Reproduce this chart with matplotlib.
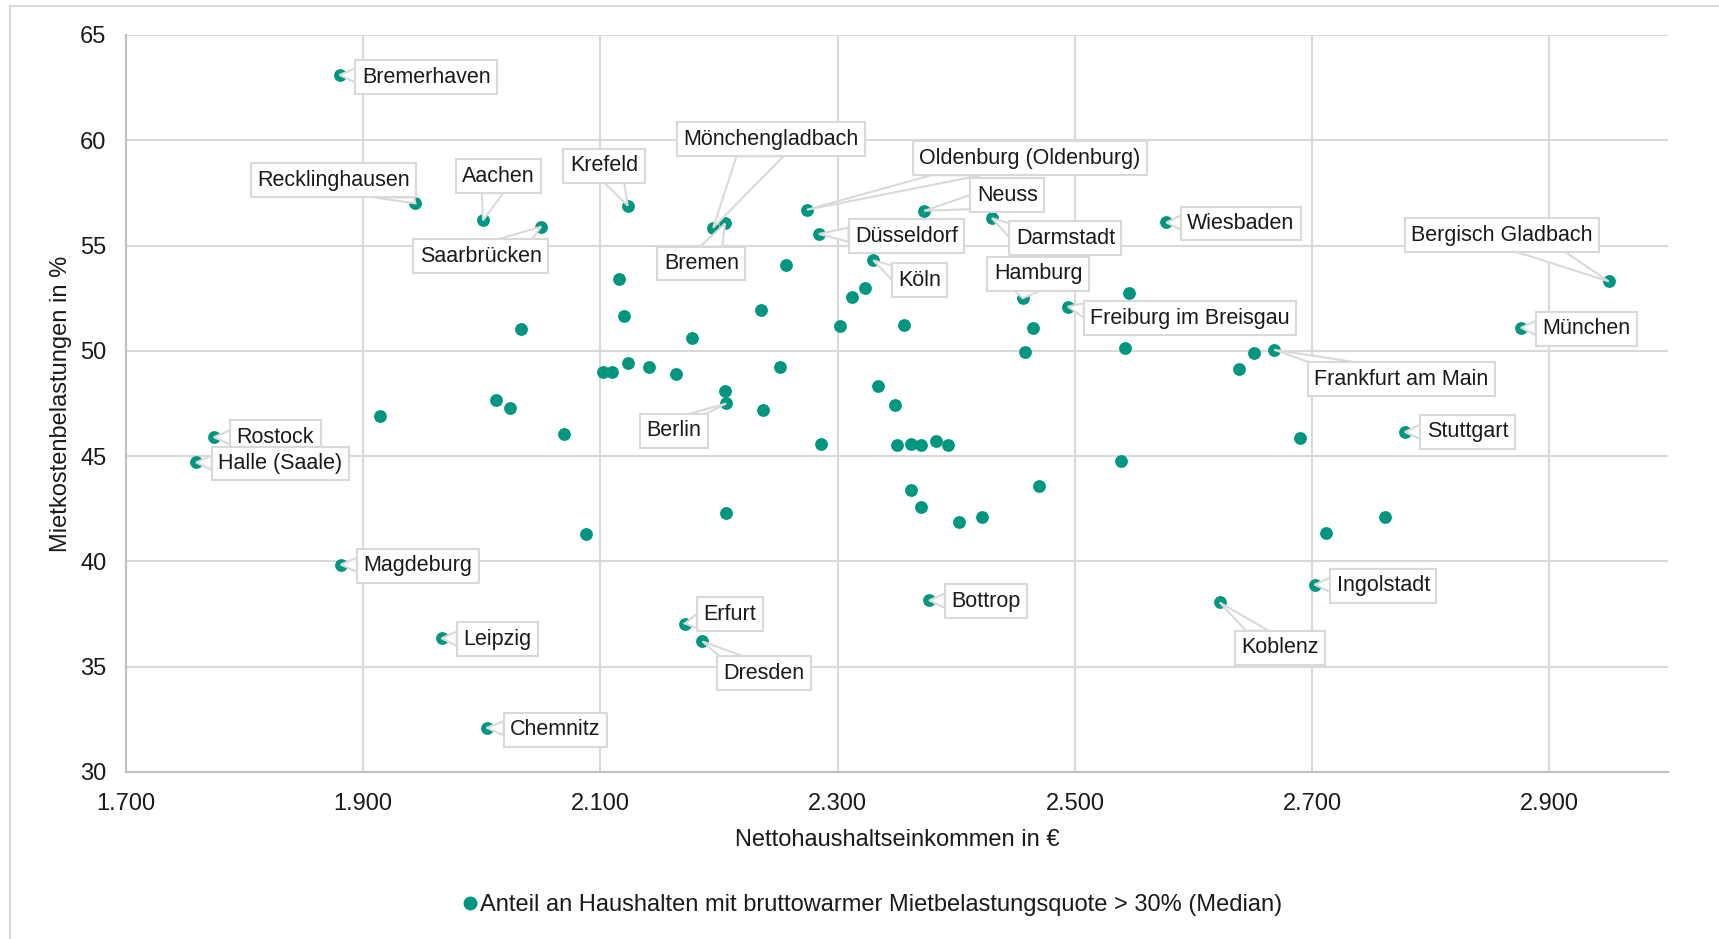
import matplotlib
matplotlib.use("Agg")
import matplotlib.pyplot as plt
from matplotlib.lines import Line2D
from matplotlib.patches import Polygon
from matplotlib.ticker import FuncFormatter

plt.rcParams['font.family'] = ['Liberation Sans', 'DejaVu Sans']

# Nettohaushaltseinkommen (EUR) und Anteil Haushalte mit Mietbelastung > 30 % (%)
cities = [
    "Bremerhaven", "Recklinghausen", "Aachen", "Saarbrücken", "Krefeld",
    "Mönchengladbach", "Bremen", "Oldenburg (Oldenburg)", "Düsseldorf", "Neuss",
    "Darmstadt", "Köln", "Hamburg", "Freiburg im Breisgau", "Wiesbaden",
    "Bergisch Gladbach", "München", "Frankfurt am Main", "Stuttgart", "Berlin",
    "Rostock", "Halle (Saale)", "Magdeburg", "Leipzig", "Chemnitz",
    "Erfurt", "Dresden", "Bottrop", "Ingolstadt", "Koblenz",
]
city_income = [
    1880, 1944, 2001, 2050, 2123,
    2195, 2205, 2274, 2284, 2373,
    2430, 2330, 2456, 2494, 2577,
    2950, 2876, 2668, 2778, 2206,
    1774, 1759, 1881, 1966, 2004,
    2171, 2186, 2377, 2702, 2622,
]
city_share = [
    63.1, 57.0, 56.2, 55.9, 56.9,
    55.85, 56.05, 56.7, 55.55, 56.65,
    56.3, 54.3, 52.5, 52.1, 56.1,
    53.3, 51.1, 50.05, 46.15, 47.5,
    45.9, 44.7, 39.85, 36.35, 32.1,
    37.05, 36.2, 38.15, 38.9, 38.05,
]

# unbeschriftete Städte
other_income = [
    2116, 2256, 2033, 2120, 2177, 2235, 2323, 2312, 2302, 2356,
    2465, 2458, 2546, 2542, 2638, 2651, 1914, 2012, 2024, 2069,
    2102, 2110, 2123, 2141, 2164, 2251, 2205, 2237, 2334, 2348,
    2286, 2350, 2362, 2370, 2383, 2393, 2539, 2470, 2362, 2370,
    2402, 2422, 2206, 2088, 2690, 2761, 2712,
]
other_share = [
    53.4, 54.1, 51.05, 51.65, 50.6, 51.95, 53.0, 52.55, 51.2, 51.25,
    51.1, 49.95, 52.75, 50.15, 49.15, 49.9, 46.9, 47.65, 47.3, 46.05,
    49.0, 49.0, 49.4, 49.25, 48.9, 49.25, 48.1, 47.2, 48.35, 47.45,
    45.6, 45.55, 45.6, 45.55, 45.7, 45.55, 44.75, 43.6, 43.4, 42.6,
    41.85, 42.1, 42.3, 41.3, 45.85, 42.1, 41.35,
]

# Position der Beschriftungen (Mitte, in Datenkoordinaten)
label_pos = {
    "Bremerhaven": (1953, 63.0), "Recklinghausen": (1875, 58.1),
    "Aachen": (2014, 58.3), "Saarbrücken": (1999, 54.5),
    "Krefeld": (2103, 58.8), "Mönchengladbach": (2244, 60.05),
    "Bremen": (2185, 54.15), "Oldenburg (Oldenburg)": (2462, 59.15),
    "Düsseldorf": (2358, 55.45), "Neuss": (2443, 57.4),
    "Darmstadt": (2492, 55.35), "Köln": (2369, 53.35),
    "Hamburg": (2469, 53.65), "Freiburg im Breisgau": (2597, 51.55),
    "Wiesbaden": (2640, 56.05), "Bergisch Gladbach": (2860, 55.5),
    "München": (2931, 51.05), "Frankfurt am Main": (2775, 48.65),
    "Stuttgart": (2831, 46.15), "Berlin": (2162, 46.2),
    "Rostock": (1826, 45.9), "Halle (Saale)": (1830, 44.65),
    "Magdeburg": (1946, 39.8), "Leipzig": (2013, 36.3),
    "Chemnitz": (2062, 32.0), "Erfurt": (2209, 37.5),
    "Dresden": (2238, 34.7), "Bottrop": (2425, 38.1),
    "Ingolstadt": (2760, 38.85), "Koblenz": (2673, 35.9),
}

teal = "#00967F"
grid_col = "#d9d9d9"
txt_col = "#1a1a1a"

fig = plt.figure(figsize=(17.19, 9.39), dpi=100)
ax = fig.add_axes([126 / 1719, 1 - 772 / 939, (1668 - 126) / 1719, (772 - 35) / 939])

ax.scatter(other_income, other_share, s=85, color=teal, zorder=3, linewidths=0)
ax.scatter(city_income, city_share, s=85, color=teal, zorder=3, linewidths=0)

ax.set_xlim(1700, 3000)
ax.set_ylim(30, 65)
ax.set_xticks(range(1700, 3000, 200))
ax.set_yticks(range(30, 66, 5))
ax.xaxis.set_major_formatter(FuncFormatter(lambda v, p: f"{int(v):,}".replace(",", ".")))
ax.grid(True, color=grid_col, lw=1.5)
ax.set_axisbelow(True)
for s in ['top', 'right']:
    ax.spines[s].set_visible(False)
for s in ['left', 'bottom']:
    ax.spines[s].set_color('#bfbfbf')
    ax.spines[s].set_linewidth(1.5)
ax.tick_params(length=0, labelsize=17, colors=txt_col)
ax.tick_params(axis='x', pad=15)
ax.tick_params(axis='y', pad=14)

ax.set_xlabel("Nettohaushaltseinkommen in €", fontsize=17, color=txt_col, labelpad=10)
ax.set_ylabel("Mietkostenbelastungen in %", fontsize=17, color=txt_col, labelpad=6)

labels = []
for name, x, y in zip(cities, city_income, city_share):
    tx, ty = label_pos[name]
    t = ax.text(tx, ty, name, ha='center', va='center', fontsize=15.5, color=txt_col, zorder=5,
                bbox=dict(boxstyle='square,pad=0.3', fc='white', ec=grid_col, lw=1.5))
    labels.append((t, x, y))

# Callout-Spitzen: Keil vom Kastenrand zum Punkt
fig.canvas.draw()
renderer = fig.canvas.get_renderer()
inv = ax.transData.inverted()
for t, x, y in labels:
    bb = t.get_bbox_patch().get_window_extent(renderer)
    cx, cy = (bb.x0 + bb.x1) / 2, (bb.y0 + bb.y1) / 2
    px, py = ax.transData.transform((x, y))
    dx, dy = px - cx, py - cy
    hw, hh = bb.width / 2, bb.height / 2
    tx_ = hw / abs(dx) if dx != 0 else 1e9
    ty_ = hh / abs(dy) if dy != 0 else 1e9
    if tx_ < ty_:
        ex, ey = cx + dx * tx_, cy + dy * tx_
        b = 0.42 * bb.height
        ey = min(max(ey, bb.y0 + b / 2 + 2), bb.y1 - b / 2 - 2)
        base = [(ex, ey - b / 2), (ex, ey + b / 2)]
    else:
        ex, ey = cx + dx * ty_, cy + dy * ty_
        b = min(0.25 * bb.width, 50)
        ex = min(max(ex, bb.x0 + b / 2 + 2), bb.x1 - b / 2 - 2)
        base = [(ex - b / 2, ey), (ex + b / 2, ey)]
    pts = inv.transform([base[0], (px, py), base[1]])
    ax.add_patch(Polygon(pts, closed=True, fc='white', ec=grid_col, lw=1.5, zorder=4))

handle = Line2D([], [], marker='o', ls='', color=teal, markersize=9)
fig.legend([handle], ["Anteil an Haushalten mit bruttowarmer Mietbelastungsquote > 30% (Median)"],
           loc='center', bbox_to_anchor=(872 / 1719, 1 - 905 / 939), frameon=False,
           fontsize=17, handletextpad=0.1, handlelength=0.7, labelcolor=txt_col)

# äußerer Rahmen (nur oben und links sichtbar)
fig.add_artist(Line2D([10 / 1719, 10 / 1719], [0, 1 - 6 / 939], color=grid_col, lw=1.5))
fig.add_artist(Line2D([10 / 1719, 1], [1 - 6 / 939, 1 - 6 / 939], color=grid_col, lw=1.5))

fig.savefig("out.png", dpi=100)
